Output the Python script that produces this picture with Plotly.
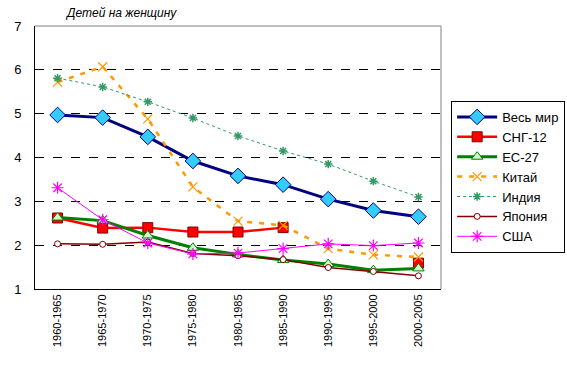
import plotly.graph_objects as go

periods = ["1960-1965", "1965-1970", "1970-1975", "1975-1980", "1980-1985",
           "1985-1990", "1990-1995", "1995-2000", "2000-2005"]
world = [4.97, 4.91, 4.47, 3.92, 3.58, 3.38, 3.05, 2.79, 2.65]
cis12 = [2.62, 2.39, 2.40, 2.30, 2.30, 2.40, None, None, 1.59]
eu27 = [2.63, 2.56, 2.22, 1.94, 1.79, 1.66, 1.57, 1.43, 1.47]
china = [5.72, 6.07, 4.88, 3.33, 2.55, 2.45, 1.92, 1.78, 1.73]
india = [5.81, 5.61, 5.27, 4.90, 4.49, 4.15, 3.85, 3.46, 3.10]
japan = [2.03, 2.02, 2.07, 1.81, 1.76, 1.67, 1.49, 1.40, 1.30]
usa = [3.31, 2.58, 2.05, 1.80, 1.82, 1.92, 2.03, 1.99, 2.05]

fig = go.Figure()

def add(name, y, color, width, dash, symbol, size, fill, outline, owidth=1):
    fig.add_trace(go.Scatter(
        x=periods, y=y, name=name, legendgroup=name, mode="lines+markers",
        connectgaps=False,
        line=dict(color=color, width=width, dash=dash),
        marker=dict(symbol=symbol, size=size, color=fill,
                    line=dict(color=outline, width=owidth)),
    ))

add("Весь мир", world, "#000080", 3, "solid", "diamond", 12, "#33CCFF", "#000080")
add("СНГ-12", cis12, "#FF0000", 2.5, "solid", "square", 10, "#FF0000", "#800000")
add("ЕС-27", eu27, "#008000", 3, "solid", "triangle-up", 10, "#CCFFCC", "#008000")
add("Китай", china, "#FF9900", 2.5, "5px,7px", "x-thin-open", 9, "#FF9900", "#FF9900", 1.2)
add("Индия", india, "#339966", 1, "3px,3px", "asterisk-open", 7, "#339966", "#339966", 1.5)
add("Япония", japan, "#800000", 1.5, "solid", "circle", 6, "#FFFFFF", "#800000")
add("США", usa, "#FF00FF", 1, "solid", "asterisk-open", 10, "#FF00FF", "#FF00FF", 1.2)

fig.update_layout(
    width=567, height=390,
    margin=dict(l=35, r=126, t=26, b=101, autoexpand=False),
    paper_bgcolor="white", plot_bgcolor="white",
    font=dict(family="Liberation Sans, Arial, sans-serif", color="black"),
    showlegend=True,
    legend=dict(x=1.025, y=0.715, xanchor="left", yanchor="top",
                bordercolor="black", borderwidth=1, bgcolor="white",
                font=dict(size=13), tracegroupgap=10, itemwidth=40,
                traceorder="normal"),
)
fig.layout.annotations = [dict(text="<i>Детей на женщину</i>", x=0.07, xref="paper",
                               y=1.015, yref="paper", xanchor="left", yanchor="bottom",
                               showarrow=False, font=dict(size=12))]

fig.update_xaxes(
    type="category", tickangle=-90, tickfont=dict(size=11),
    showline=True, linecolor="black", linewidth=1, mirror=False,
    showgrid=False, ticks="", range=[-0.5, 8.5], automargin=False,
)
fig.update_yaxes(
    range=[1, 7], dtick=1, tickfont=dict(size=13),
    showline=True, linecolor="black", linewidth=1,
    showgrid=True, gridcolor="black", griddash="dash", gridwidth=1,
    zeroline=False, ticks="", ticklabelstandoff=10, automargin=False,
)
# gray border top/right of plot area
fig.add_shape(type="line", xref="paper", yref="paper", x0=0, x1=1, y0=1, y1=1,
              line=dict(color="gray", width=1))
fig.add_shape(type="line", xref="paper", yref="paper", x0=1, x1=1, y0=0, y1=1,
              line=dict(color="gray", width=1))

fig.write_html("out.html", config={"displayModeBar": False},
               post_script="document.body.style.margin='0';")
